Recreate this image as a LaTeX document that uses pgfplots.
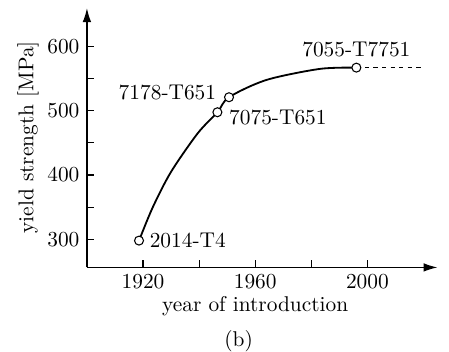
\documentclass[border=0pt]{standalone}
\usepackage{pgfplots}
\pgfplotsset{compat=1.18}
\usetikzlibrary{arrows.meta}
\begin{document}
\begin{tikzpicture}
\begin{axis}[
  scale only axis,
  width=164pt, height=121.3pt,
  xmin=1900, xmax=2025, ymin=256, ymax=660,
  axis lines=left,
  axis line style={line width=0.6pt, -{Latex[length=6.5pt,width=4pt]}},
  xtick={1920,1960,2000}, minor xtick={1940,1980},
  ytick={300,400,500,600}, minor ytick={350,450,550},
  tick align=inside,
  major tick length=3.3pt, minor tick length=3.3pt,
  every tick/.style={black, line width=0.5pt},
  xticklabel style={/pgf/number format/1000 sep={}},
  clip=false,
  xlabel={year of introduction},
  xlabel style={at={(axis cs:1960,195)}, anchor=center},
  ylabel={yield strength [MPa]},
  ylabel style={at={(axis cs:1879,458.6)}, anchor=center},
]
\addplot[black, line width=0.85pt, smooth, tension=0.5] coordinates {
 (1918.57,297.8) (1923.5,350.0) (1930.0,405.0) (1939.5,465.0) (1946.52,497.8)
 (1950.66,521.2) (1963.99,548.1) (1982.99,565.3) (1996.08,567.3)
};
\addplot[black, line width=0.4pt, dash pattern=on 2pt off 2pt] coordinates {(1996.08,567.3) (2020.4,567.3)};
\addplot[only marks, mark=*, mark size=2.1pt, mark options={fill=white, draw=black, line width=0.5pt}] coordinates {
 (1918.57,297.8) (1946.52,497.8) (1950.66,521.2) (1996.08,567.3)
};
\node[anchor=west, xshift=1.5pt] at (axis cs:1918.57,297.8) {2014-T4};
\node[anchor=east, xshift=-2.5pt, yshift=2pt] at (axis cs:1950.66,521.2) {7178-T651};
\node[anchor=west, xshift=2pt, yshift=-2.6pt] at (axis cs:1946.52,497.8) {7075-T651};
\node[anchor=south, yshift=1.3pt] at (axis cs:1996.08,567.3) {7055-T7751};
\node[anchor=center] at (axis cs:1954.1,140.5) {(b)};
\coordinate (bl) at (axis cs:1869,124.5);
\coordinate (tr) at (axis cs:2029.1,672.7);
\end{axis}
\pgfresetboundingbox
\useasboundingbox (bl) rectangle (tr);
\end{tikzpicture}
\end{document}
